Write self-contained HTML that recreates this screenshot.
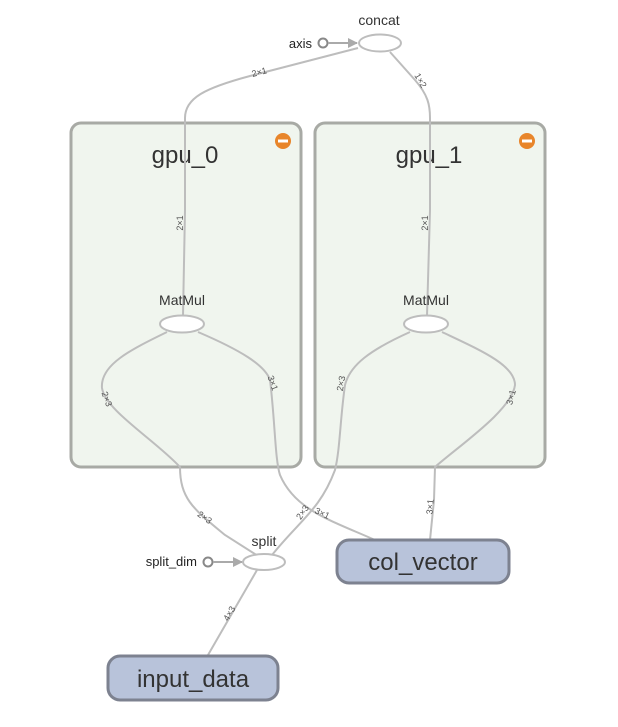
<!DOCTYPE html>
<html><head><meta charset="utf-8"><style>
html,body{margin:0;padding:0;background:#fff;}
svg{display:block;font-family:"Liberation Sans",sans-serif;}
.e{fill:none;stroke:#bdbdbd;stroke-width:2;}
.t{fill:#333;}
.s{font-size:9px;fill:#555;}
</style></head><body>
<svg width="618" height="727" viewBox="0 0 618 727">
<defs><marker id="ar" markerWidth="10" markerHeight="10" refX="9" refY="5" orient="auto" markerUnits="userSpaceOnUse"><path d="M0,0 L10,5 L0,10 z" fill="#aaa"/></marker></defs>
<rect x="71" y="123" width="230" height="344" rx="10" fill="#f0f5ee" stroke="#a8aaa5" stroke-width="3"/>
<rect x="315" y="123" width="230" height="344" rx="10" fill="#f0f5ee" stroke="#a8aaa5" stroke-width="3"/>
<text x="185" y="163" font-size="24" text-anchor="middle" class="t">gpu_0</text>
<text x="429" y="163" font-size="24" text-anchor="middle" class="t">gpu_1</text>
<circle cx="283" cy="141" r="8" fill="#e8852a"/><rect x="278" y="139.5" width="10" height="3" fill="#fff"/>
<circle cx="527" cy="141" r="8" fill="#e8852a"/><rect x="522" y="139.5" width="10" height="3" fill="#fff"/>
<path class="e" d="M358,48 L250,76 C205,88 185,98 185,118 L185,210 L183,316"/>
<path class="e" d="M390,52 L415,80 C428,95 430,105 430,118 L430,210 L427,316"/>
<path class="e" d="M167,332 C130,350 100,365 102,388 C105,410 155,440 180,467 C180,500 195,510 225,535 L258,556"/>
<path class="e" d="M198,332 C240,350 265,365 270,380 C275,420 275,460 280,475 C295,510 330,520 375,540"/>
<path class="e" d="M410,332 C370,350 350,365 345,385 C340,420 340,450 335,470 C320,510 300,520 272,555"/>
<path class="e" d="M442,332 C480,350 515,365 515,385 C512,410 460,445 435,467 L434,500 L430,540"/>
<path class="e" d="M257,570 L208,655"/>
<text class="s" x="260" y="75" transform="rotate(-15 260 75)" text-anchor="middle">2×1</text>
<text class="s" x="418" y="82" transform="rotate(60 418 82)" text-anchor="middle">1×2</text>
<text class="s" x="183" y="223" transform="rotate(-90 183 223)" text-anchor="middle">2×1</text>
<text class="s" x="428" y="223" transform="rotate(-90 428 223)" text-anchor="middle">2×1</text>
<text class="s" x="104" y="400" transform="rotate(70 104 400)" text-anchor="middle">2×3</text>
<text class="s" x="270" y="384" transform="rotate(70 270 384)" text-anchor="middle">3×1</text>
<text class="s" x="344" y="384" transform="rotate(-80 344 384)" text-anchor="middle">2×3</text>
<text class="s" x="514" y="398" transform="rotate(-75 514 398)" text-anchor="middle">3×1</text>
<text class="s" x="203" y="520" transform="rotate(35 203 520)" text-anchor="middle">2×3</text>
<text class="s" x="305" y="514" transform="rotate(-55 305 514)" text-anchor="middle">2×3</text>
<text class="s" x="321" y="516" transform="rotate(25 321 516)" text-anchor="middle">3×1</text>
<text class="s" x="433" y="507" transform="rotate(-85 433 507)" text-anchor="middle">3×1</text>
<text class="s" x="232" y="615" transform="rotate(-60 232 615)" text-anchor="middle">4×3</text>
<text x="379" y="25" font-size="14" text-anchor="middle" class="t">concat</text>
<ellipse cx="380" cy="43" rx="21" ry="8.5" fill="#fff" stroke="#bdbdbd" stroke-width="2"/>
<text x="312" y="48" font-size="13" text-anchor="end" fill="#222">axis</text>
<circle cx="323" cy="43" r="4.5" fill="#fff" stroke="#888" stroke-width="2"/>
<line x1="328" y1="43" x2="357" y2="43" stroke="#aaa" stroke-width="2" marker-end="url(#ar)"/>
<text x="182" y="305" font-size="14" text-anchor="middle" class="t">MatMul</text>
<ellipse cx="182" cy="324" rx="22" ry="8.5" fill="#fff" stroke="#bdbdbd" stroke-width="2"/>
<text x="426" y="305" font-size="14" text-anchor="middle" class="t">MatMul</text>
<ellipse cx="426" cy="324" rx="22" ry="8.5" fill="#fff" stroke="#bdbdbd" stroke-width="2"/>
<text x="264" y="546" font-size="14" text-anchor="middle" class="t">split</text>
<ellipse cx="264" cy="562" rx="21" ry="8" fill="#fff" stroke="#bdbdbd" stroke-width="2"/>
<text x="197" y="566" font-size="13" text-anchor="end" fill="#222">split_dim</text>
<circle cx="208" cy="562" r="4.5" fill="#fff" stroke="#888" stroke-width="2"/>
<line x1="213" y1="562" x2="242" y2="562" stroke="#aaa" stroke-width="2" marker-end="url(#ar)"/>
<rect x="337" y="540" width="172" height="43" rx="12" fill="#b8c3da" stroke="#7d8290" stroke-width="3"/>
<text x="423" y="570" font-size="24" text-anchor="middle" class="t">col_vector</text>
<rect x="108" y="656" width="170" height="44" rx="12" fill="#b8c3da" stroke="#7d8290" stroke-width="3"/>
<text x="193" y="687" font-size="24" text-anchor="middle" class="t">input_data</text>
</svg>
</body></html>
